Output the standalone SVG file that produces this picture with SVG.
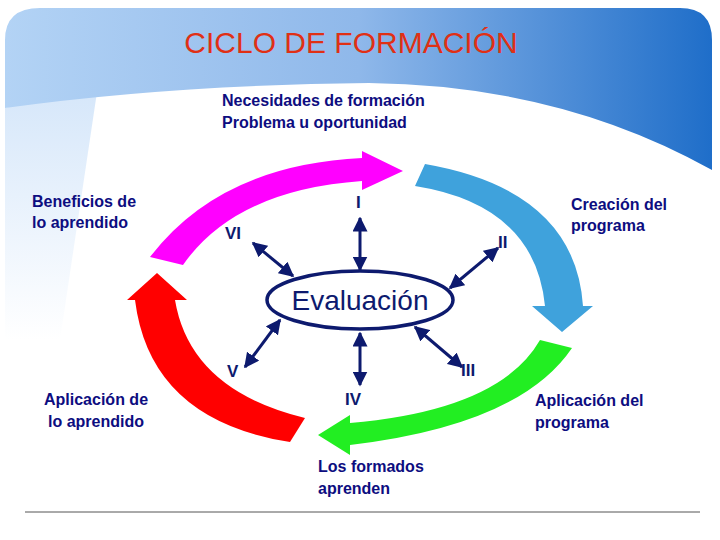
<svg xmlns="http://www.w3.org/2000/svg" width="720" height="540" viewBox="0 0 720 540">
<defs>
<linearGradient id="hg" x1="0" y1="0" x2="1" y2="0">
<stop offset="0" stop-color="#b3d3f5"/><stop offset="0.5" stop-color="#8fb8ea"/><stop offset="1" stop-color="#1f6ec9"/>
</linearGradient>
<linearGradient id="lg" x1="0" y1="0" x2="0" y2="1">
<stop offset="0" stop-color="#d6e7fa"/><stop offset="1" stop-color="#ffffff"/>
</linearGradient>
<marker id="ah" viewBox="0 0 10 10" refX="9" refY="5" markerWidth="5" markerHeight="5" orient="auto-start-reverse"><path d="M0,0 L10,5 L0,10 z" fill="#0d1a6e"/></marker>
</defs>
<style>
.lbl{font-family:"Liberation Sans",Arial,sans-serif;font-weight:bold;font-size:16px;fill:#0d0d80}
.rom{font-family:"Liberation Sans",Arial,sans-serif;font-weight:bold;font-size:17px;fill:#0d1a6e}
.dbl{stroke:#0d1a6e;stroke-width:3;fill:none;marker-start:url(#ah);marker-end:url(#ah)}
</style>
<rect width="720" height="540" fill="#fff"/>
<path d="M5,108 L5,340 L60,340 L97,92 Q40,98 5,108 Z" fill="url(#lg)"/>
<path d="M5,40 Q5,8 40,8 L680,8 Q712,8 712,40 L712,170 Q560,85 369,83 Q170,85 5,108 Z" fill="url(#hg)"/>
<text x="351" y="53" text-anchor="middle" font-family="Liberation Sans,Arial,sans-serif" font-size="30" fill="#e03015">CICLO DE FORMACIÓN</text>
<text class="lbl" x="222" y="106">Necesidades de formación</text>
<text class="lbl" x="222" y="128">Problema u oportunidad</text>
<g id="a1"><path d="M150,257 Q220,165 362,158 L362,151 L403,171 L362,190 L362,181 Q235,190 183,265 Z" fill="#ff00ff"/></g>
<g id="a2"><path d="M425,164 Q575,190 583,306 L593,306 L562,332 L532,306 L545,306 Q535,205 415,186 Z" fill="#3fa2dc"/></g>
<g id="a3"><path d="M572,348 Q520,425 350,445 L350,455 L318,435 L350,415 L350,423 Q500,410 540,340 Z" fill="#22ee22"/></g>
<g id="a4"><path d="M305,418 Q190,390 175,300 L187,300 L157,273 L127,300 L135,300 Q150,420 290,442 Z" fill="#ff0000"/></g>
<g id="eval"><ellipse cx="360" cy="300" rx="93" ry="29" fill="#fff" stroke="#0d1a6e" stroke-width="3.5"/>
<text x="360" y="310" text-anchor="middle" font-family="Liberation Sans,Arial,sans-serif" font-size="28" fill="#0d1a6e">Evaluación</text></g>
<g id="connectors">
<line class="dbl" x1="360" y1="218" x2="360" y2="270"/>
<line class="dbl" x1="253" y1="243" x2="293" y2="276"/>
<line class="dbl" x1="498" y1="248" x2="450" y2="288"/>
<line class="dbl" x1="280" y1="320" x2="245" y2="367"/>
<line class="dbl" x1="360" y1="333" x2="360" y2="385"/>
<line class="dbl" x1="415" y1="327" x2="462" y2="367"/>
</g>
<g id="roman">
<text class="rom" x="356" y="208">I</text>
<text class="rom" x="225" y="239">VI</text>
<text class="rom" x="498" y="248">II</text>
<text class="rom" x="227" y="377">V</text>
<text class="rom" x="345" y="405">IV</text>
<text class="rom" x="461" y="376">III</text>
</g>
<g id="labels">
<text class="lbl" x="32" y="207">Beneficios de</text>
<text class="lbl" x="32" y="228">lo aprendido</text>
<text class="lbl" x="571" y="210">Creación del</text>
<text class="lbl" x="571" y="231">programa</text>
<text class="lbl" x="44" y="405">Aplicación de</text>
<text class="lbl" x="48" y="427"> lo  aprendido</text>
<text class="lbl" x="535" y="406">Aplicación del</text>
<text class="lbl" x="535" y="428">programa</text>
<text class="lbl" x="318" y="472">Los formados</text>
<text class="lbl" x="318" y="494">aprenden</text>
</g>
<line x1="25" y1="512" x2="700" y2="512" stroke="#555" stroke-width="1"/>
</svg>
